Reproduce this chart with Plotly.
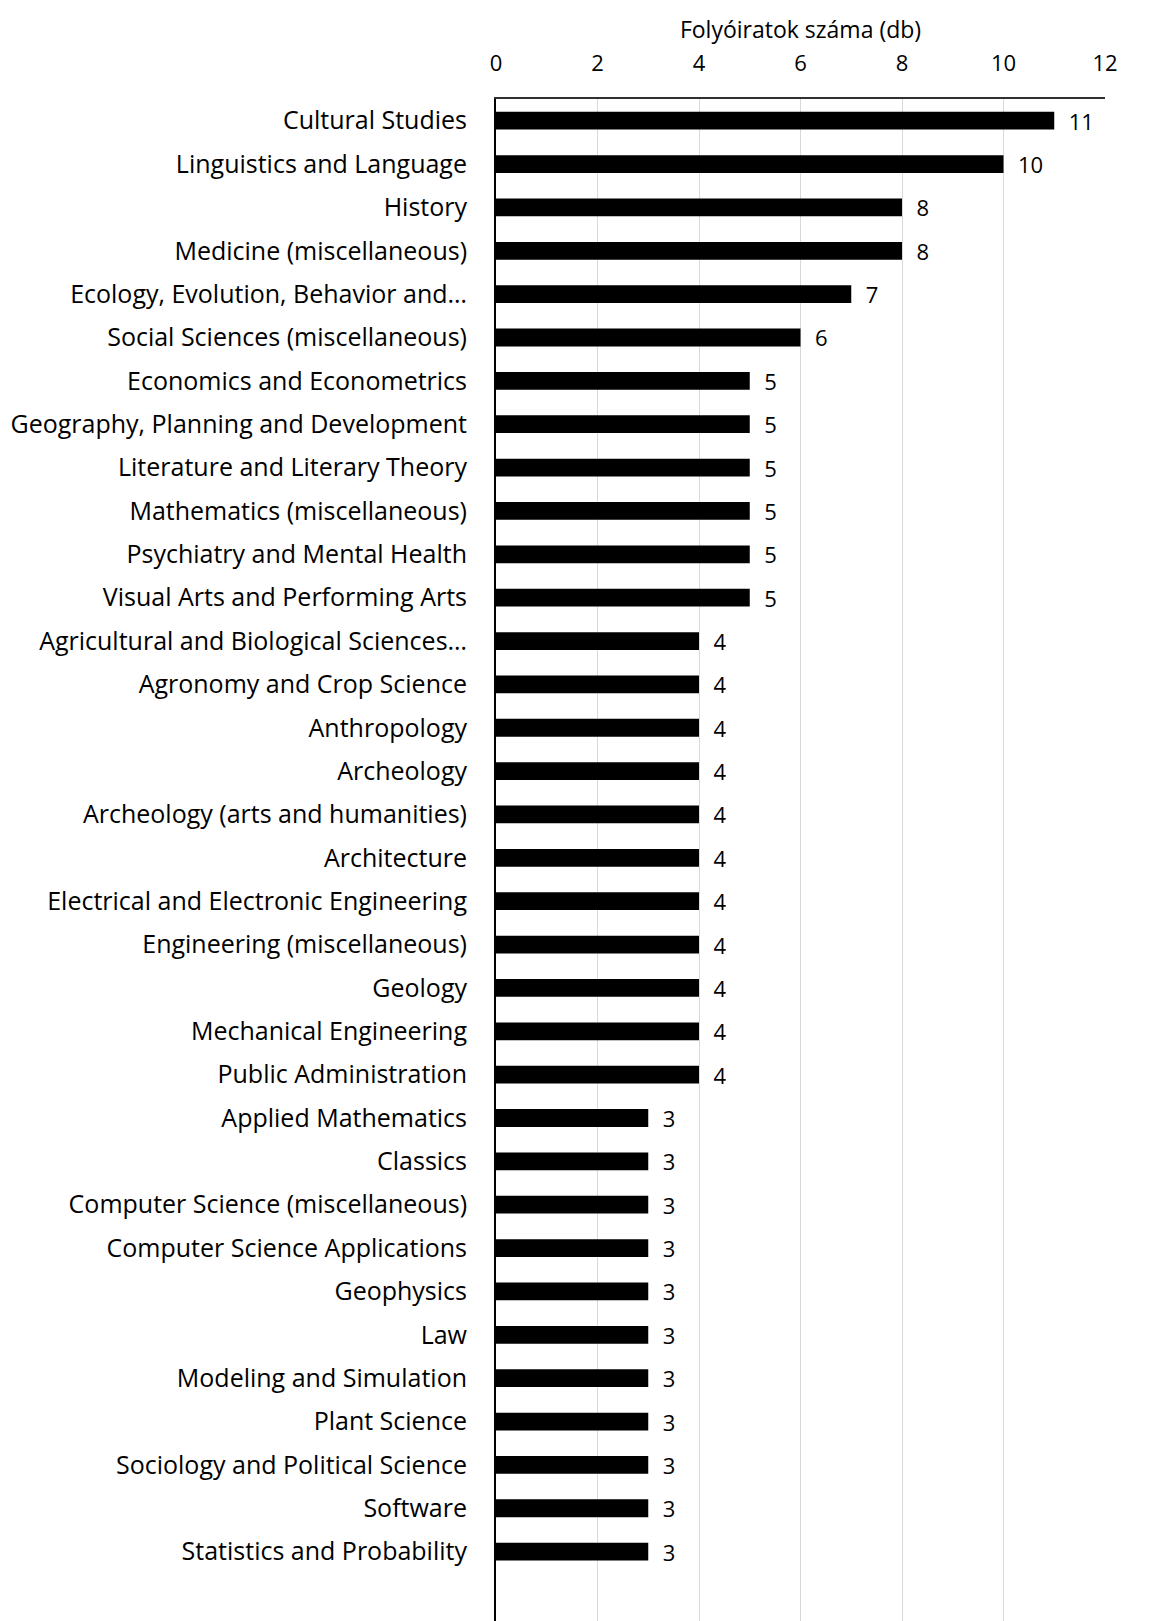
import plotly.graph_objects as go

categories = [
    "Cultural Studies", "Linguistics and Language", "History", "Medicine (miscellaneous)",
    "Ecology, Evolution, Behavior and…", "Social Sciences (miscellaneous)",
    "Economics and Econometrics", "Geography, Planning and Development",
    "Literature and Literary Theory", "Mathematics (miscellaneous)",
    "Psychiatry and Mental Health", "Visual Arts and Performing Arts",
    "Agricultural and Biological Sciences…", "Agronomy and Crop Science",
    "Anthropology", "Archeology", "Archeology (arts and humanities)", "Architecture",
    "Electrical and Electronic Engineering", "Engineering (miscellaneous)", "Geology",
    "Mechanical Engineering", "Public Administration", "Applied Mathematics", "Classics",
    "Computer Science (miscellaneous)", "Computer Science Applications", "Geophysics",
    "Law", "Modeling and Simulation", "Plant Science", "Sociology and Political Science",
    "Software", "Statistics and Probability",
]
values = [11, 10, 8, 8, 7, 6, 5, 5, 5, 5, 5, 5, 4, 4, 4, 4, 4, 4, 4, 4, 4, 4, 4,
          3, 3, 3, 3, 3, 3, 3, 3, 3, 3, 3]
x_ticks = [0, 2, 4, 6, 8, 10, 12]
axis_title = "Folyóiratok száma (db)"

FONT = "Open Sans"

fig = go.Figure(go.Bar(
    x=values, y=categories, orientation="h",
    marker=dict(color="black", line=dict(width=0)),
    width=0.41,
    text=[str(v) for v in values],
    texttemplate="  %{text}",
    textposition="outside",
    constraintext="none",
    textfont=dict(family=FONT, size=22, color="black"),
    cliponaxis=False,
    hoverinfo="none",
))

fig.update_layout(
    width=1159, height=1621,
    margin=dict(l=496, r=54, t=99, b=0),
    plot_bgcolor="white", paper_bgcolor="white",
    showlegend=False,
    font=dict(family=FONT, color="black"),
    xaxis=dict(
        side="top", range=[0, 12], tickvals=x_ticks,
        tickfont=dict(family=FONT, size=22, color="black"),
        showgrid=True, gridcolor="#d9d9d9", gridwidth=1,
        showline=True, linecolor="#303030", linewidth=2, mirror=False,
        zeroline=False, ticks="", ticklabelstandoff=17,
        title=dict(text=axis_title, font=dict(family=FONT, size=23, color="black"), standoff=2),
    ),
    yaxis=dict(
        categoryorder="array", categoryarray=categories,
        range=[34.6, -0.5],
        tickfont=dict(family=FONT, size=25, color="black"),
        showline=True, linecolor="black", linewidth=2,
        ticks="", ticklabelstandoff=22, showgrid=False,
    ),
)

fig.write_html("out.html", config={"displayModeBar": False},
               post_script="document.body.style.margin='0';")
